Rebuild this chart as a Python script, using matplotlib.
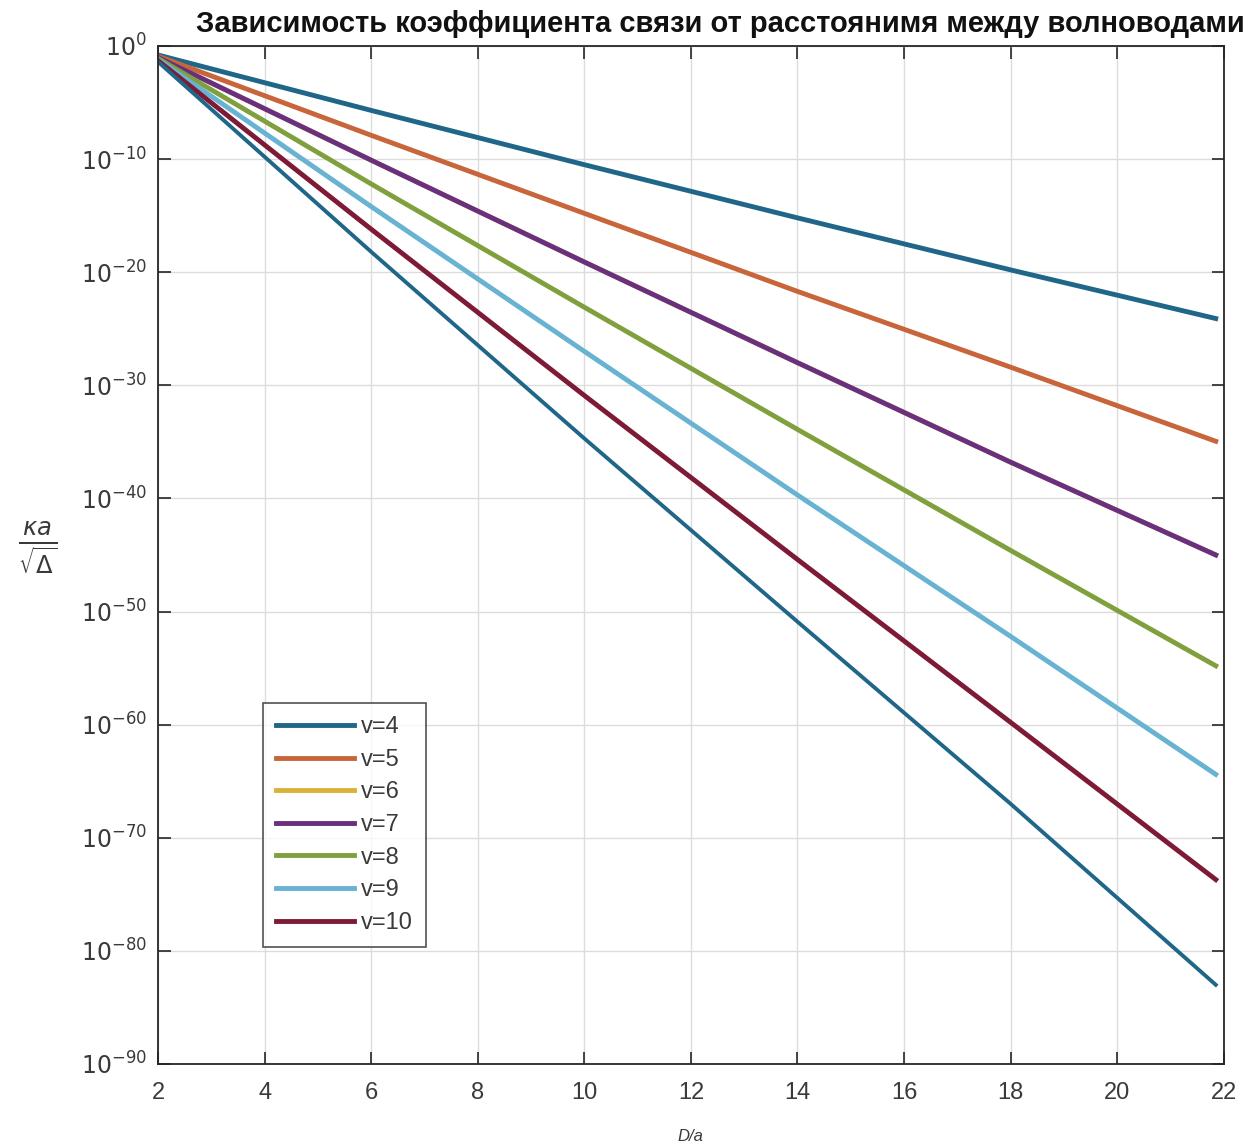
import numpy as np
import matplotlib.pyplot as plt

# D/a sample points
d_over_a = [2, 6, 10, 14, 18, 21.85]

# log10 of ka/sqrt(Delta), read at each D/a point
v4 = [-0.8, -5.7, -10.5, -15.2, -19.8, -24.1]
v5 = [-0.9, -7.9, -14.8, -21.7, -28.4, -34.95]
v6 = [-1.0, -10.1, -19.1, -28.0, -36.8, -45.0]   # hidden under v=7 in the picture
v7 = [-1.0, -10.1, -19.1, -28.0, -36.8, -45.0]
v8 = [-1.1, -12.2, -23.1, -33.9, -44.6, -54.8]
v9 = [-1.2, -14.2, -27.0, -39.7, -52.2, -64.4]
v10 = [-1.3, -16.2, -30.9, -45.4, -59.8, -73.7]
v11 = [-1.4, -18.2, -34.7, -50.9, -67.0, -83.0]  # extra line, no legend entry

labels = ['v=4', 'v=5', 'v=6', 'v=7', 'v=8', 'v=9', 'v=10']
series = [v4, v5, v6, v7, v8, v9, v10]
colors = ['#1f6688', '#c8653a', '#d9b23a', '#6b2f80', '#7fa03c', '#67b3d1', '#7d1a35']

x_ticks = [2, 4, 6, 8, 10, 12, 14, 16, 18, 20, 22]
y_exps = [0, -10, -20, -30, -40, -50, -60, -70, -80, -90]

plt.rcParams['font.family'] = ['Liberation Sans', 'DejaVu Sans']
txt = '#3a3a3a'

fig = plt.figure(figsize=(12.59, 11.48), dpi=100)
ax = fig.add_axes([0.1255, 0.0732, 0.8465, 0.8868])

x = np.array(d_over_a)
for vals, lab, col in zip(series, labels, colors):
    ax.plot(x, 10.0 ** np.array(vals), color=col, linewidth=3.5, label=lab)
ax.plot(x, 10.0 ** np.array(v11), color=colors[0], linewidth=2.8)

ax.set_yscale('log')
ax.set_xlim(2, 22)
ax.set_ylim(1e-90, 1e0)
ax.set_xticks(x_ticks)
ax.set_xticklabels([str(t) for t in x_ticks])
ax.set_yticks([10.0 ** e for e in y_exps])
ax.set_yticklabels(['$10^{%d}$' % e for e in y_exps])
ax.minorticks_off()
ax.tick_params(direction='in', length=9, width=1.2, top=True, right=True,
               labelsize=17, colors='#262626', labelcolor=txt, pad=8)
ax.tick_params(axis='x', pad=13)
ax.grid(True, color='#dcdcdc', linewidth=1.0)
ax.set_axisbelow(True)
for sp in ax.spines.values():
    sp.set_color('#262626')
    sp.set_linewidth(1.3)

ax.set_xlabel('D/a', fontstyle='italic', fontsize=12, color=txt, labelpad=18)
ax.set_ylabel(r'$\frac{\kappa a}{\sqrt{\Delta}}$', fontsize=25, rotation=0,
              color=txt, va='center', ha='center')
ax.yaxis.set_label_coords(-0.1135, 0.507)

fig.text(0.572, 0.979, 'Зависимость коэффициента связи от расстоянимя между волноводами',
         ha='center', va='center', fontsize=21, fontweight='bold', color='#111111')

leg = ax.legend(loc='lower left', bbox_to_anchor=(0.0985, 0.115), fontsize=17,
                frameon=True, fancybox=False, edgecolor='#262626', handlelength=3.3,
                labelspacing=0.45, borderpad=0.55, handletextpad=0.3, borderaxespad=0)
leg.get_frame().set_linewidth(1.2)
for t in leg.get_texts():
    t.set_color(txt)

fig.savefig('out.png', dpi=100)
